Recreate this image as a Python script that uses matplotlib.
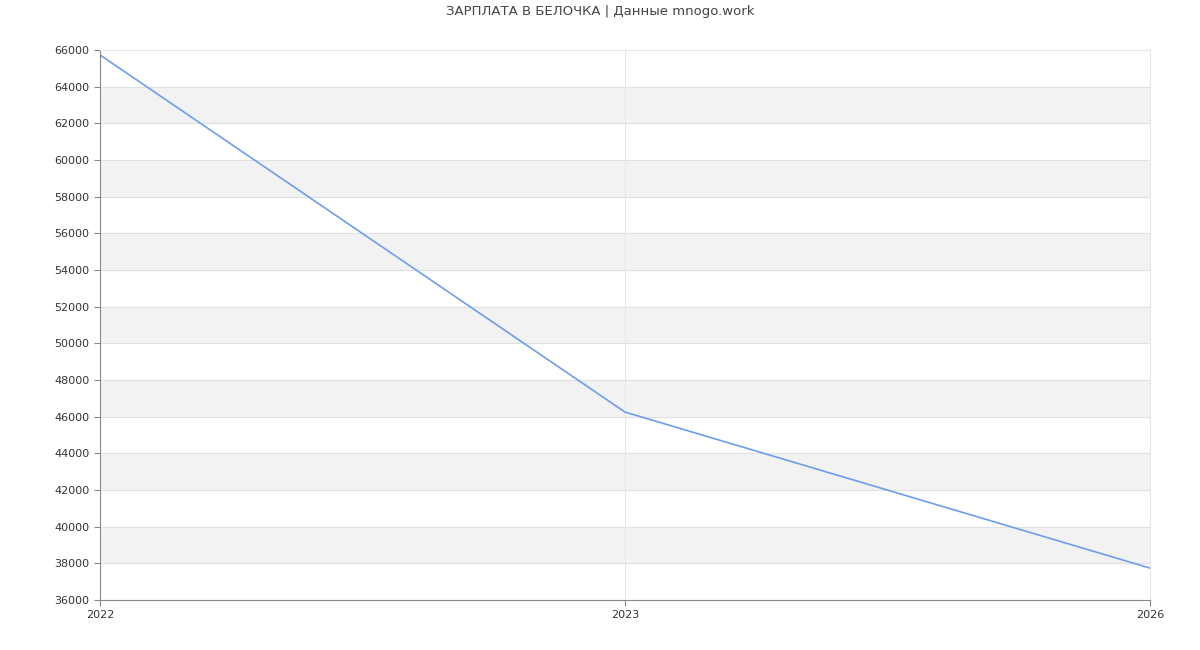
import matplotlib.pyplot as plt

years = ['2022', '2023', '2026']
salary = [65730, 46250, 37740]

fig = plt.figure(figsize=(12, 6.5), dpi=100)
ax = fig.add_axes([100/1200, 50/650, 1050/1200, 550/650])

x = list(range(len(years)))
ax.plot(x, salary, color='#6d9eeb', linewidth=1.2)

# alternating bands
for lo in range(38000, 66000, 4000):
    ax.axhspan(lo, lo + 2000, color='#f2f2f2', zorder=0)
for v in range(36000, 66001, 2000):
    ax.axhline(v, color='#e0e0e0', linewidth=0.7, zorder=0.5)
ax.axvline(1, color='#e6e6e6', linewidth=0.7, zorder=0.5)

ax.set_xlim(0, 2)
ax.set_ylim(36000, 66000)
ax.set_xticks(x)
ax.set_xticklabels(years)
ax.set_yticks(range(36000, 66001, 2000))
ax.tick_params(labelsize=8, colors='#333333', length=4)
ax.tick_params(axis='x', color='#888888')
ax.tick_params(axis='y', color='#888888')
for s in ['left', 'bottom']:
    ax.spines[s].set_color('#888888')
ax.spines['top'].set_color('#e6e6e6')
ax.spines['right'].set_color('#e6e6e6')

fig.text(0.5, 1 - 12/650, 'ЗАРПЛАТА В БЕЛОЧКА | Данные mnogo.work', ha='center', va='center',
         fontsize=9.5, color='#444444')

fig.savefig('out.png', dpi=100)
